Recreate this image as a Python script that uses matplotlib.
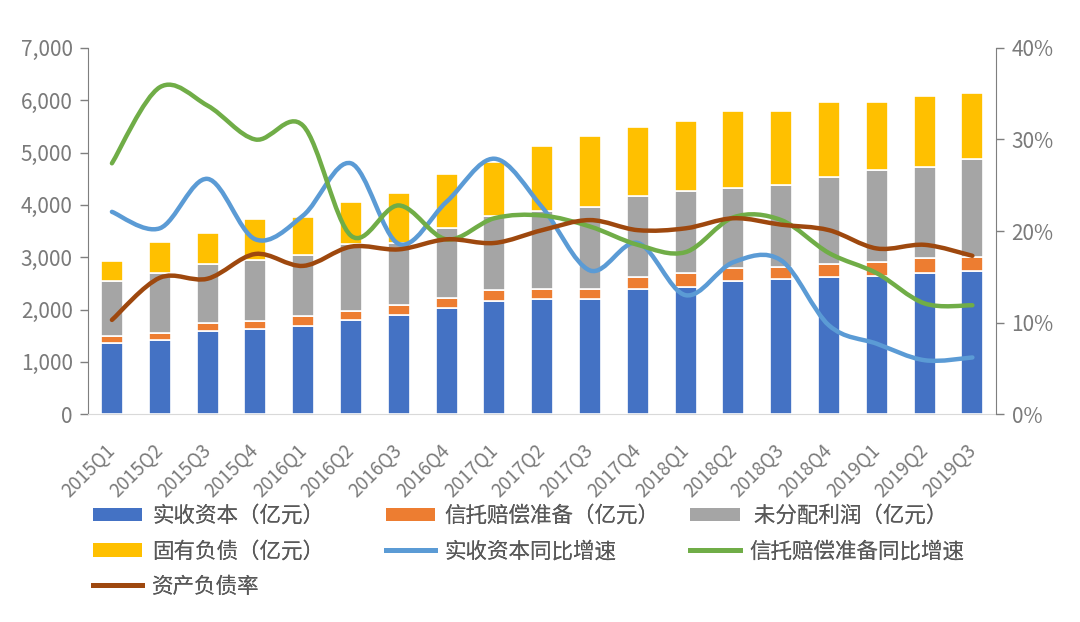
import matplotlib
matplotlib.use('Agg')
import matplotlib.pyplot as plt
from matplotlib.path import Path
from matplotlib.patches import PathPatch, Patch
from matplotlib.lines import Line2D
from matplotlib.ticker import FuncFormatter, MultipleLocator
import numpy as np

plt.rcParams['font.family'] = ['Noto Sans CJK SC', 'DejaVu Sans']

quarters = ['2015Q1', '2015Q2', '2015Q3', '2015Q4', '2016Q1', '2016Q2', '2016Q3', '2016Q4',
            '2017Q1', '2017Q2', '2017Q3', '2017Q4', '2018Q1', '2018Q2', '2018Q3', '2018Q4',
            '2019Q1', '2019Q2', '2019Q3']

# stacked bars (亿元)
paid_in = [1370, 1420, 1600, 1620, 1680, 1800, 1900, 2030, 2170, 2200,
           2210, 2390, 2430, 2540, 2580, 2630, 2640, 2700, 2740]
reserve = [130, 140, 150, 170, 190, 180, 190, 190, 210, 200,
           190, 230, 260, 260, 240, 250, 260, 280, 270]
undistributed = [1050, 1140, 1130, 1160, 1170, 1270, 1190, 1330, 1400, 1490,
                 1560, 1550, 1570, 1520, 1560, 1650, 1770, 1750, 1860]
own_liab = [370, 600, 590, 790, 730, 800, 950, 1050, 1040, 1240,
            1355, 1320, 1350, 1480, 1420, 1440, 1300, 1350, 1270]

# lines (%)
paid_in_growth = [22.1, 20.3, 25.7, 19.1, 21.7, 27.4, 18.6, 23.2, 27.9, 22.6,
                  15.7, 18.7, 13.0, 16.6, 16.8, 9.7, 7.7, 5.9, 6.2]
reserve_growth = [27.4, 35.7, 33.7, 30.0, 31.5, 19.5, 22.8, 19.1, 21.4, 21.7,
                  20.5, 18.5, 17.7, 21.5, 21.2, 17.6, 15.4, 12.1, 11.9]
debt_ratio = [10.3, 14.9, 14.8, 17.5, 16.2, 18.3, 18.0, 19.1, 18.7, 20.1,
              21.2, 20.1, 20.3, 21.4, 20.7, 20.1, 18.1, 18.5, 17.3]

c_blue = '#4472C4'
c_orange = '#ED7D31'
c_gray = '#A5A5A5'
c_yellow = '#FFC000'
c_lblue = '#5B9BD5'
c_green = '#70AD47'
c_brown = '#9E480E'
txt = '#7a7a7a'
spine = '#7f7f7f'


def smooth_path(x, y):
    # Excel-like smoothed line: cubic bezier segments (Catmull-Rom control points)
    pts = np.column_stack([x, y]).astype(float)
    n = len(pts)
    verts = [pts[0]]
    codes = [Path.MOVETO]
    for i in range(n - 1):
        p0 = pts[i - 1] if i > 0 else pts[i]
        p1 = pts[i]
        p2 = pts[i + 1]
        p3 = pts[i + 2] if i + 2 < n else pts[i + 1]
        verts += [p1 + (p2 - p0) / 6, p2 - (p3 - p1) / 6, p2]
        codes += [Path.CURVE4] * 3
    return Path(verts, codes)


fig = plt.figure(figsize=(10.8, 6.22), dpi=100)
ax = fig.add_axes([0.0815, 0.334, 0.841, 0.589])
ax2 = ax.twinx()

x = np.arange(len(quarters))
w = 0.46
b1 = np.array(paid_in)
b2 = b1 + np.array(reserve)
b3 = b2 + np.array(undistributed)
ax.bar(x, paid_in, w, color=c_blue, edgecolor='white', linewidth=1.2)
ax.bar(x, reserve, w, bottom=b1, color=c_orange, edgecolor='white', linewidth=1.2)
ax.bar(x, undistributed, w, bottom=b2, color=c_gray, edgecolor='white', linewidth=1.2)
ax.bar(x, own_liab, w, bottom=b3, color=c_yellow, edgecolor='white', linewidth=1.2)

for vals, col in [(paid_in_growth, c_lblue), (reserve_growth, c_green), (debt_ratio, c_brown)]:
    ax2.add_patch(PathPatch(smooth_path(x, vals), fill=False, edgecolor=col,
                            linewidth=3.2, capstyle='round', joinstyle='round'))

ax.set_xlim(-0.5, len(quarters) - 0.5)
ax.set_ylim(0, 7000)
ax2.set_ylim(0, 40)
ax.yaxis.set_major_locator(MultipleLocator(1000))
ax2.yaxis.set_major_locator(MultipleLocator(10))
ax.yaxis.set_major_formatter(FuncFormatter(lambda v, p: f'{int(v):,}'))
ax2.yaxis.set_major_formatter(FuncFormatter(lambda v, p: f'{int(v)}%'))

for a in (ax, ax2):
    a.spines['top'].set_visible(False)
    a.spines['left'].set_color(spine)
    a.spines['right'].set_color(spine)
    a.spines['bottom'].set_color('#d9d9d9')
    a.tick_params(axis='y', colors=spine, labelcolor=txt, labelsize=15, length=6, width=1, pad=5)
ax2.spines['left'].set_visible(False)
ax.spines['right'].set_visible(False)
ax2.spines['bottom'].set_visible(False)

ax.set_xticks(x)
ax.set_xticklabels(quarters, rotation=45, ha='right', va='center', rotation_mode='anchor',
                   fontsize=13.5, color=txt)
ax.tick_params(axis='x', length=0, pad=24)

# legend: three fixed columns like the Excel layout
columns = [
    (0.086, [Patch(facecolor=c_blue, label='实收资本（亿元）'),
             Patch(facecolor=c_yellow, label='固有负债（亿元）'),
             Line2D([], [], color=c_brown, linewidth=3.5, label='资产负债率')]),
    (0.357, [Patch(facecolor=c_orange, label='信托赔偿准备（亿元）'),
             Line2D([], [], color=c_lblue, linewidth=3.5, label='实收资本同比增速')]),
    (0.639, [Patch(facecolor=c_gray, label=' 未分配利润（亿元）'),
             Line2D([], [], color=c_green, linewidth=3.5, label='信托赔偿准备同比增速')]),
]
for xpos, hs in columns:
    leg = fig.legend(handles=hs, loc='upper left', bbox_to_anchor=(xpos, 1 - 505 / 622),
                     frameon=False, fontsize=15.5, labelcolor='#595959', handlelength=2.3,
                     handleheight=0.6, handletextpad=0.45, labelspacing=0.62, borderpad=0,
                     borderaxespad=0)
    fig.add_artist(leg)

fig.savefig('out.png', dpi=100)
